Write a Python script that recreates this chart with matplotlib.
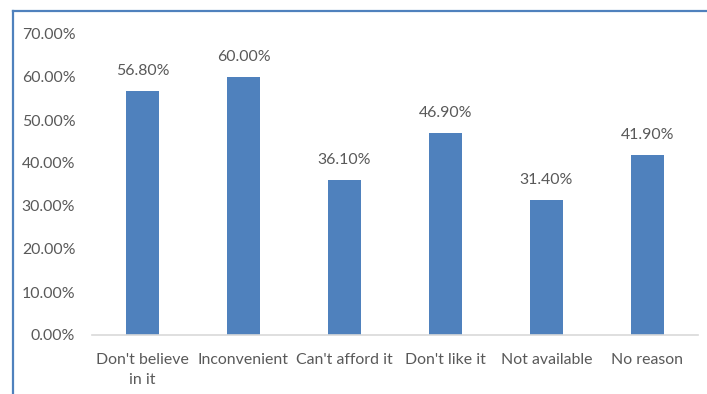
import matplotlib
matplotlib.use("Agg")
import matplotlib.pyplot as plt
from matplotlib.lines import Line2D

categories = ["Don't believe\nin it", "Inconvenient", "Can't afford it",
              "Don't like it", "Not available", "No reason"]
values = [56.8, 60.0, 36.1, 46.9, 31.4, 41.9]
yticks = [0, 10, 20, 30, 40, 50, 60, 70]

plt.rcParams['font.family'] = ['Lato', 'DejaVu Sans']
W, H = 707, 394
fig = plt.figure(figsize=(W / 100, H / 100), dpi=100)
ax = fig.add_axes([92 / W, (H - 335) / H, 606 / W, 301 / H])

bar_color = "#4F81BD"
text_color = "#595959"
fs = 11.4
x = range(len(categories))
bars = ax.bar(x, values, width=0.32, color=bar_color)
for xi, v in zip(x, values):
    ax.text(xi, v + 3.0, f"{v:.2f}%", ha="center", va="bottom",
            fontsize=fs, color=text_color)

ax.set_xlim(-0.5, len(categories) - 0.5)
ax.set_ylim(0, 70)
ax.set_yticks(yticks)
ax.set_yticklabels([f"{t:.2f}%" for t in yticks])
ax.set_xticks(list(x))
ax.set_xticklabels(categories, linespacing=1.5)
ax.tick_params(axis="both", length=0, labelsize=fs, labelcolor=text_color)
ax.tick_params(axis="y", pad=12)
ax.tick_params(axis="x", pad=13)
for side in ["top", "right", "left"]:
    ax.spines[side].set_visible(False)
ax.spines["bottom"].set_color("#D9D9D9")
ax.spines["bottom"].set_linewidth(1.2)

# chart frame (left and top edges)
fig.add_artist(Line2D([12.5 / W, 12.5 / W], [0, (H - 11) / H],
                      transform=fig.transFigure, color=bar_color, lw=1.6))
fig.add_artist(Line2D([12.5 / W, 1], [(H - 11) / H, (H - 11) / H],
                      transform=fig.transFigure, color=bar_color, lw=1.6))

fig.savefig("out.png", dpi=100)
